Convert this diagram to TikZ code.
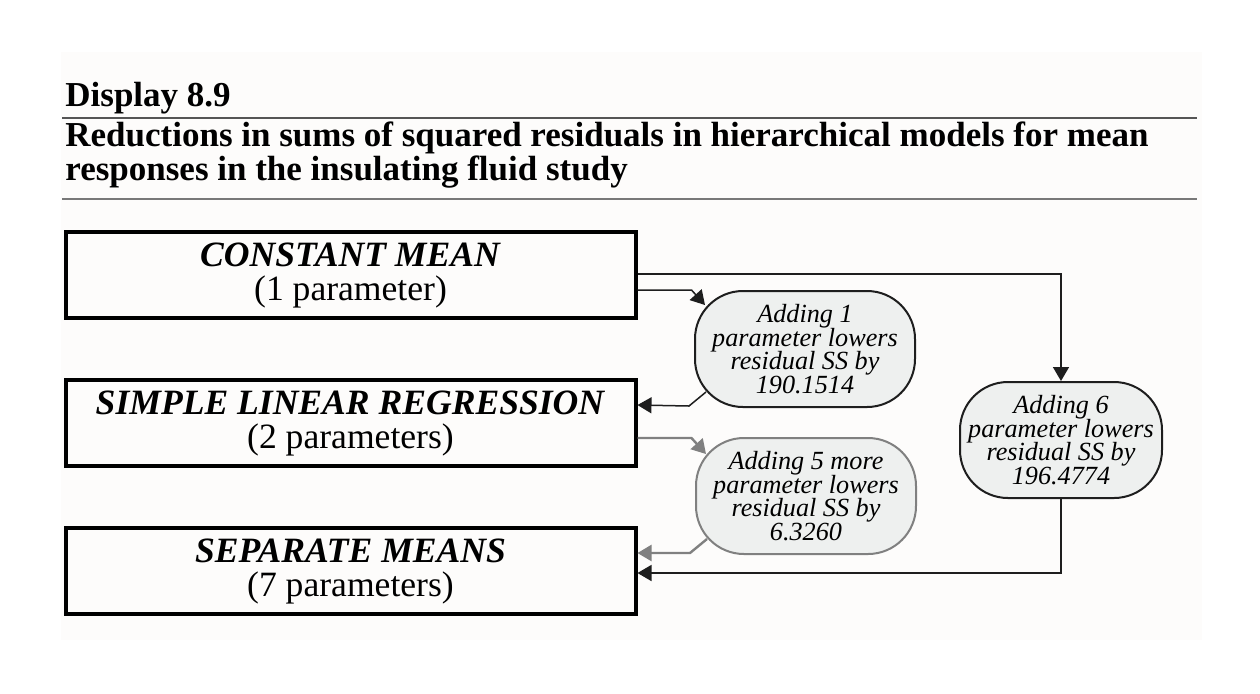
\documentclass[tikz,border=0pt]{standalone}
\usepackage{fontspec}
\setmainfont{Liberation Serif}
\usetikzlibrary{arrows.meta,calc}
\definecolor{panel}{RGB}{253,252,251}
\definecolor{ellfill}{RGB}{238,240,239}
\definecolor{ruleA}{RGB}{85,85,85}
\definecolor{ruleB}{RGB}{120,120,120}
\definecolor{grayline}{RGB}{128,128,128}
\definecolor{darkline}{RGB}{30,30,30}
\tikzset{
  x=0.5pt, y=-0.5pt,
  model/.style={draw=black, line width=2pt, minimum width=285pt, minimum height=43pt,
    align=center, inner sep=0pt, font=\fontsize{17.8}{17}\selectfont},
  note/.style={draw=darkline, line width=1pt, fill=ellfill, rounded corners=24pt,
    minimum width=110pt, minimum height=58pt, align=center, inner sep=0pt,
    font=\fontsize{13.1}{11.9}\selectfont\itshape},
  graynote/.style={note, draw=grayline},
  conn/.style={draw=darkline, line width=0.75pt, -{Triangle[length=7pt,width=8pt]}},
  grayconn/.style={draw=grayline, line width=1.2pt, -{Triangle[length=7pt,width=8pt,fill=grayline]}},
  titletext/.style={anchor=base west, inner sep=0pt, font=\fontsize{17.5}{17}\selectfont\bfseries}
}
\begin{document}
\begin{tikzpicture}
\useasboundingbox (0,0) rectangle (1260,693);
\fill[panel] (61,52) rectangle (1202,640);
\draw[ruleA, line width=0.75pt] (62,118) -- (1197,118);
\draw[ruleB, line width=1.2pt] (62,199) -- (1197,199);
\node[titletext] (disp) at (65,106) {Display 8.9};
\node[titletext] (t1) at (65,146) {Reductions in sums of squared residuals in hierarchical models for mean};
\node[titletext] (t2) at (65,180) {responses in the insulating fluid study};

\node[model] (b1) at (350.5,275) {\textbf{\textit{CONSTANT MEAN}}\\(1 parameter)};
\node[model] (b2) at (350.5,423) {\textbf{\textit{SIMPLE LINEAR REGRESSION}}\\(2 parameters)};
\node[model] (b3) at (350.5,571) {\textbf{\textit{SEPARATE MEANS}}\\(7 parameters)};

\node[note] (e1) at (805,349) {Adding 1\\parameter lowers\\residual SS by\\190.1514};
\node[graynote] (e2) at (806,496) {Adding 5 more\\parameter lowers\\residual SS by\\6.3260};
\node[note, minimum width=101pt] (e3) at (1061,440) {Adding 6\\parameter lowers\\residual SS by\\196.4774};

\draw[conn] (b1.east |- 0,274) -| (e3.north);
\draw[conn] (b1.east |- 0,290) -- ++(54,0) -- ($(e1.north west)+(11,15)$);
\draw[conn] ($(e1.south west)+(12,-16)$) -- ++(-17,14) -- (b2.east |- 0,405);
\draw[grayconn] (b2.east |- 0,438) -- ++(54,0) -- ($(e2.north west)+(11,17)$);
\draw[grayconn] ($(e2.south west)+(12,-16)$) -- ++(-17,14) -- (b3.east |- 0,553);
\draw[conn] (e3.south) |- (b3.east |- 0,573);
\end{tikzpicture}
\end{document}
